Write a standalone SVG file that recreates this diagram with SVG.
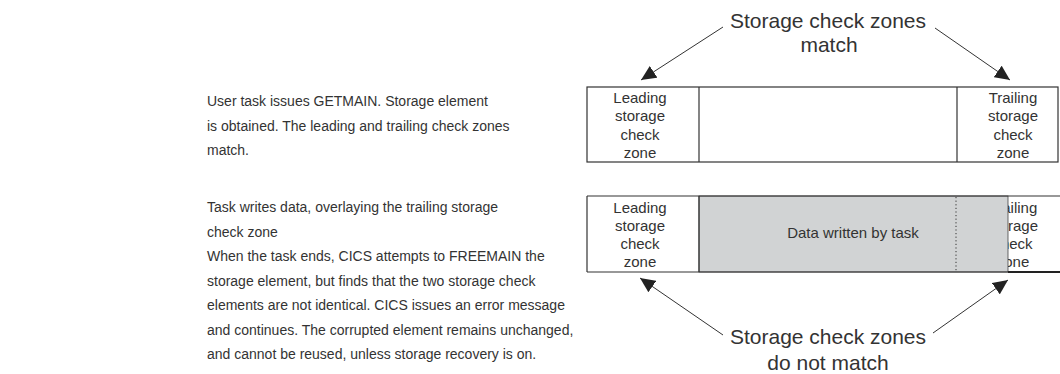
<svg xmlns="http://www.w3.org/2000/svg" width="1060" height="374" viewBox="0 0 1060 374">
<style>
  text { font-family: "Liberation Sans", Arial, sans-serif; fill: #333; }
  .desc { font-size: 14px; }
  .lbl { font-size: 15px; text-anchor: middle; }
  .big { font-size: 21px; text-anchor: middle; }
  .box { fill: #fff; stroke: #333; stroke-width: 1.2; }
  .div { stroke: #333; stroke-width: 1.2; }
  .conn { stroke: #333; stroke-width: 1; fill: none; marker-end: url(#arr); }
</style>
<defs>
  <marker id="arr" markerUnits="userSpaceOnUse" markerWidth="16" markerHeight="14" refX="15" refY="7" orient="auto">
    <path d="M0,0 L15,7 L0,14 z" fill="#222"/>
  </marker>
</defs>
<rect width="1060" height="374" fill="#fff"/>

<g id="desc1">
  <text class="desc" x="207" y="106">User task issues GETMAIN. Storage element</text>
  <text class="desc" x="207" y="130.5">is obtained. The leading and trailing check zones</text>
  <text class="desc" x="207" y="155">match.</text>
</g>

<g id="desc2">
  <text class="desc" x="207" y="212">Task writes data, overlaying the trailing storage</text>
  <text class="desc" x="207" y="236.5">check zone</text>
  <text class="desc" x="207" y="261">When the task ends, CICS attempts to FREEMAIN the</text>
  <text class="desc" x="207" y="285.5">storage element, but finds that the two storage check</text>
  <text class="desc" x="207" y="310">elements are not identical. CICS issues an error message</text>
  <text class="desc" x="207" y="334.5">and continues. The corrupted element remains unchanged,</text>
  <text class="desc" x="207" y="359">and cannot be reused, unless storage recovery is on.</text>
</g>

<g id="element1">
  <rect class="box" x="587" y="87" width="471" height="75"/>
  <line class="div" x1="699" y1="87" x2="699" y2="162"/>
  <line class="div" x1="957" y1="87" x2="957" y2="162"/>
  <text class="lbl" x="640" y="103">Leading</text>
  <text class="lbl" x="640" y="121">storage</text>
  <text class="lbl" x="640" y="140">check</text>
  <text class="lbl" x="640" y="158">zone</text>
  <text class="lbl" x="1013" y="103">Trailing</text>
  <text class="lbl" x="1013" y="121">storage</text>
  <text class="lbl" x="1013" y="140">check</text>
  <text class="lbl" x="1013" y="158">zone</text>
</g>

<g id="element2">
  <rect x="587" y="196" width="473" height="76" fill="#fff"/>
  <text class="lbl" x="640" y="213">Leading</text>
  <text class="lbl" x="640" y="231">storage</text>
  <text class="lbl" x="640" y="249">check</text>
  <text class="lbl" x="640" y="267">zone</text>
  <text class="lbl" x="1013" y="213">Trailing</text>
  <text class="lbl" x="1013" y="231">storage</text>
  <text class="lbl" x="1013" y="249">check</text>
  <text class="lbl" x="1013" y="267">zone</text>
  <rect x="699" y="196" width="309" height="76" fill="#d1d3d4" stroke="#444" stroke-width="0.8"/>
  <line x1="956" y1="197" x2="956" y2="271" stroke="#333" stroke-width="1" stroke-dasharray="1.2,2.4"/>
  <text class="lbl" x="853" y="238">Data written by task</text>
  <line class="div" x1="587" y1="196" x2="1060" y2="196"/>
  <line class="div" x1="587" y1="272" x2="1008" y2="272"/>
  <line x1="1008" y1="272" x2="1060" y2="272" stroke="#222" stroke-width="2"/>
  <line class="div" x1="587" y1="196" x2="587" y2="272"/>
  <line class="div" x1="699" y1="196" x2="699" y2="272"/>
</g>

<g id="label-match">
  <text class="big" x="828" y="28">Storage check zones</text>
  <text class="big" x="829" y="52">match</text>
</g>

<g id="label-nomatch">
  <text class="big" x="828" y="344">Storage check zones</text>
  <text class="big" x="828" y="370">do not match</text>
</g>

<g id="connectors">
  <line class="conn" x1="723" y1="27" x2="641" y2="80"/>
  <line class="conn" x1="935" y1="28" x2="1010" y2="80"/>
  <line class="conn" x1="723" y1="335" x2="640" y2="278"/>
  <line class="conn" x1="933" y1="333" x2="1008" y2="280"/>
</g>
</svg>
